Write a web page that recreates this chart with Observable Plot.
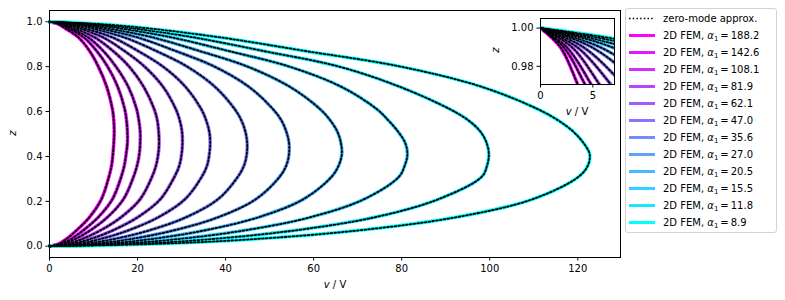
<!DOCTYPE html>
<html><head><meta charset="utf-8">
<script src="https://cdn.jsdelivr.net/npm/d3@7"></script>
<script src="https://cdn.jsdelivr.net/npm/@observablehq/plot@0.6"></script>
<style>
body{margin:0;background:#fff;font-family:"DejaVu Sans",sans-serif;}
#wrap{position:relative;width:785px;height:300px;overflow:hidden;}
#wrap > svg{position:absolute;}
.lbl{position:absolute;font-size:10px;line-height:12px;white-space:nowrap;color:#000;transform:translate(-50%,-50%);}
.rot{transform:translate(-50%,-50%) rotate(-90deg);}
#legend{position:absolute;left:625px;top:8px;width:152px;height:225px;border:1px solid #d3d3d3;border-radius:3px;background:rgba(255,255,255,0.8);box-sizing:border-box;}
.row{position:absolute;left:0;height:17px;line-height:17px;font-size:10px;white-space:nowrap;}
.row svg{position:absolute;left:2px;top:0;}
.row span{position:absolute;left:37px;top:0;}
sub{font-size:7px;vertical-align:-2px;line-height:0;}
</style></head><body><div id="wrap"></div>
<script>
// z positions (shared by every curve)
const zGrid = [0, 0.01, 0.03, 0.07, 0.13, 0.21, 0.31, 0.36, 0.41, 0.46, 0.51, 0.56, 0.61, 0.71, 0.80, 0.87, 0.93, 0.97, 0.99, 1];
// alpha_1 values (legend order)
const alphas = [188.2, 142.6, 108.1, 81.9, 62.1, 47.0, 35.6, 27.0, 20.5, 15.5, 11.8, 8.9];
// v (V) read along zGrid for each alpha_1
const vA188_2 = [0, 2.0, 3.7, 6.1, 9.1, 11.8, 13.5, 14.1, 14.4, 14.6, 14.7, 14.6, 14.3, 13.0, 11.1, 9.1, 6.6, 3.6, 1.9, 0];
const vA142_6 = [0, 2.5, 4.7, 7.6, 11.1, 14.3, 16.3, 17.0, 17.4, 17.7, 17.7, 17.5, 17.1, 15.5, 13.2, 10.7, 7.8, 4.3, 2.2, 0];
const vA108_1 = [0, 3.0, 5.6, 9.2, 13.2, 16.8, 19.1, 19.9, 20.4, 20.6, 20.6, 20.3, 19.8, 17.9, 15.1, 12.2, 8.8, 4.9, 2.5, 0];
const vA81_9  = [0, 3.8, 7.1, 11.5, 16.3, 20.6, 23.3, 24.2, 24.7, 24.9, 24.8, 24.5, 23.8, 21.4, 18.1, 14.4, 10.3, 5.7, 3.0, 0];
const vA62_1  = [0, 4.7, 8.9, 14.3, 20.1, 25.2, 28.4, 29.5, 30.0, 30.2, 30.1, 29.6, 28.7, 25.8, 21.6, 17.0, 12.2, 6.8, 3.5, 0];
const vA47_0  = [0, 5.9, 11.1, 17.8, 24.8, 30.8, 34.6, 35.8, 36.3, 36.5, 36.3, 35.6, 34.5, 30.9, 25.8, 20.1, 14.3, 8.0, 4.1, 0];
const vA35_6  = [0, 7.5, 14.1, 22.5, 31.1, 38.3, 42.8, 44.2, 44.8, 44.9, 44.5, 43.6, 42.1, 37.6, 31.3, 24.2, 17.0, 9.6, 4.9, 0];
const vA27_0  = [0, 9.3, 17.8, 28.1, 38.4, 46.9, 52.3, 53.8, 54.4, 54.4, 53.8, 52.7, 50.8, 45.3, 37.5, 28.6, 20.0, 11.3, 5.7, 0];
const vA20_5  = [0, 11.7, 22.3, 35.1, 47.6, 57.7, 64.1, 65.7, 66.4, 66.2, 65.4, 63.8, 61.5, 54.6, 45.0, 34.0, 23.5, 13.3, 6.8, 0];
const vA15_5  = [0, 14.7, 28.2, 44.1, 59.4, 71.5, 79.4, 80.7, 81.3, 80.8, 79.2, 77.0, 74.4, 66.3, 54.5, 40.6, 27.8, 16.0, 8.0, 0];
const vA11_8  = [0, 18.5, 35.6, 55.5, 74.1, 88.4, 98.2, 99.4, 99.8, 99.3, 97.9, 95.2, 91.0, 79.6, 65.8, 48.5, 32.8, 19.0, 9.5, 0];
const vA8_9   = [0, 23.3, 45.0, 69.9, 92.6, 109.8, 120.2, 122.3, 122.7, 121.3, 119.0, 115.6, 111.0, 98.2, 79.8, 58.0, 38.9, 22.6, 11.2, 0];
const xTicks = [0, 20, 40, 60, 80, 100, 120];
const yTicks = [0, 0.2, 0.4, 0.6, 0.8, 1.0];
const insetXTicks = [0, 5];
const insetYTicks = [0.98, 1.0];

const series = [vA188_2, vA142_6, vA108_1, vA81_9, vA62_1, vA47_0, vA35_6, vA27_0, vA20_5, vA15_5, vA11_8, vA8_9];
const curves = series.map((vs, i) => zGrid.map((z, j) => ({alpha: alphas[i], v: vs[j], z})));
// matplotlib "cool" colormap: magenta (largest alpha) -> cyan (smallest)
const colorOf = i => { const t = i / (alphas.length - 1); return d3.rgb(255 * (1 - t), 255 * t, 255).formatHex(); };

function curveMarks(clip) {
  const m = [];
  curves.forEach((c, i) => m.push(Plot.line(c, {x: "v", y: "z", stroke: colorOf(i), strokeWidth: 3.5, curve: "catmull-rom", clip})));
  curves.forEach(c => m.push(Plot.line(c, {x: "v", y: "z", stroke: "black", strokeWidth: 1.8, strokeDasharray: "1.8,2.0", curve: "catmull-rom", clip})));
  return m;
}

const wrap = document.getElementById("wrap");
const font = {fontFamily: "DejaVu Sans, sans-serif", fontSize: "10px", background: "transparent", overflow: "visible", color: "black"};

const main = Plot.plot({
  width: 785, height: 300,
  marginLeft: 49, marginRight: 165, marginTop: 10, marginBottom: 43,
  style: font,
  x: {domain: [0, 129.7], ticks: xTicks, tickFormat: "d", tickSize: 3.5, tickPadding: 3.5, label: null},
  y: {domain: [-0.05, 1.05], ticks: yTicks, tickFormat: ".1f", tickSize: 3.5, tickPadding: 3.5, label: null},
  marks: [...curveMarks(false), Plot.frame({stroke: "black", strokeWidth: 1})]
});
main.style.left = "0px"; main.style.top = "0px";
wrap.appendChild(main);

const inset = Plot.plot({
  width: 120, height: 93,
  marginLeft: 40, marginRight: 6, marginTop: 5, marginBottom: 22,
  style: font,
  x: {domain: [0, 7.07], ticks: insetXTicks, tickFormat: "d", tickSize: 3.5, tickPadding: 3.5, label: null},
  y: {domain: [0.9705, 1.005], ticks: insetYTicks, tickFormat: ".2f", tickSize: 3.5, tickPadding: 3.5, label: null},
  marks: [Plot.frame({fill: "white"}), ...curveMarks(true), Plot.frame({stroke: "black", strokeWidth: 1})]
});
inset.style.left = "500px"; inset.style.top = "13px";
wrap.appendChild(inset);

function label(html, x, y, rot) {
  const d = document.createElement("div");
  d.className = "lbl" + (rot ? " rot" : "");
  d.style.left = x + "px"; d.style.top = y + "px";
  d.innerHTML = html; wrap.appendChild(d);
}
label("<i>v</i> / V", 335, 285);
label("<i>z</i>", 12.5, 133, true);
label("<i>v</i> / V", 577, 112);
label("<i>z</i>", 496, 50, true);

const legend = document.createElement("div");
legend.id = "legend"; wrap.appendChild(legend);
const entries = [{text: "zero-mode approx.", dotted: true}].concat(alphas.map((a, i) => ({text: "2D FEM, <i>α</i><sub>1</sub>\u2009=\u2009" + a.toFixed(1), color: colorOf(i)})));
entries.forEach((e, k) => {
  const r = document.createElement("div");
  r.className = "row"; r.style.top = (0.8 + 17 * k) + "px";
  const line = e.dotted
    ? '<line x1="1" x2="27" y1="8.5" y2="8.5" stroke="black" stroke-width="1.5" stroke-dasharray="1.5,2.2"/>'
    : `<line x1="1" x2="27" y1="8.5" y2="8.5" stroke="${e.color}" stroke-width="3"/>`;
  r.innerHTML = `<svg width="30" height="17">${line}</svg><span>${e.text}</span>`;
  legend.appendChild(r);
});
</script></body></html>
